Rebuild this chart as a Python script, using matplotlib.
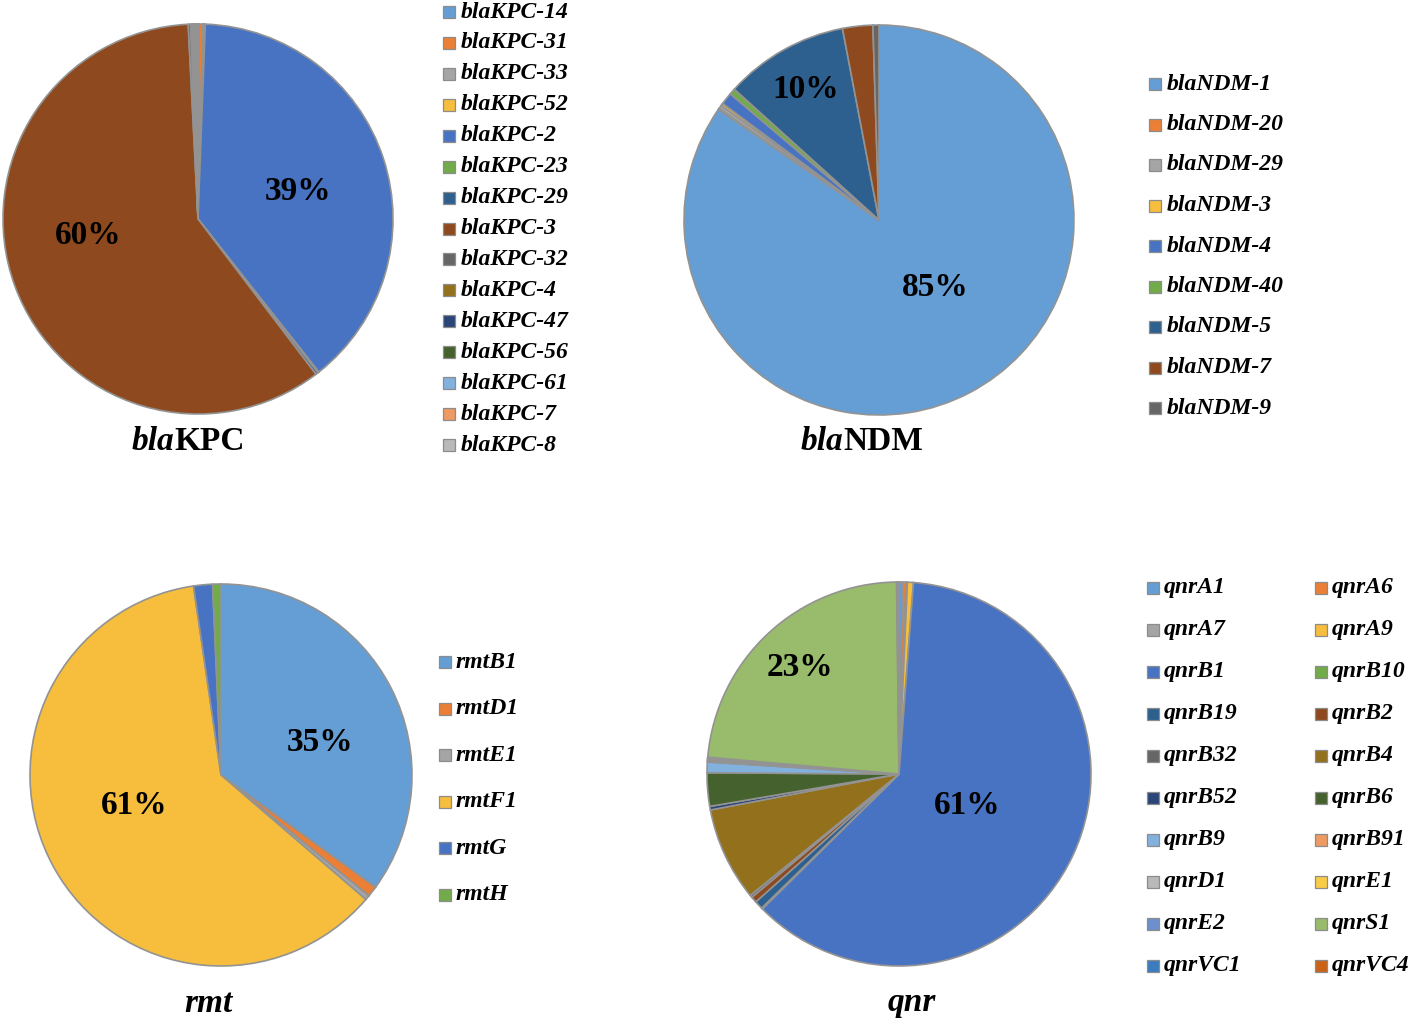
import matplotlib
matplotlib.use("Agg")
import matplotlib.pyplot as plt
from matplotlib.patches import Rectangle
import numpy as np

# ---------------- data ----------------
kpc_labels = ["blaKPC-14", "blaKPC-31", "blaKPC-33", "blaKPC-52", "blaKPC-2", "blaKPC-23",
              "blaKPC-29", "blaKPC-3", "blaKPC-32", "blaKPC-4", "blaKPC-47", "blaKPC-56",
              "blaKPC-61", "blaKPC-7", "blaKPC-8"]
kpc_values = [0.1, 0.3, 0.1, 0.1, 38.8, 0.1, 0.2, 59.6, 0.2, 0.1, 0.1, 0.1, 0.1, 0.1, 0.1]

ndm_labels = ["blaNDM-1", "blaNDM-20", "blaNDM-29", "blaNDM-3", "blaNDM-4", "blaNDM-40",
              "blaNDM-5", "blaNDM-7", "blaNDM-9"]
ndm_values = [84.6, 0.1, 0.3, 0.2, 1.0, 0.5, 10.3, 2.5, 0.5]

rmt_labels = ["rmtB1", "rmtD1", "rmtE1", "rmtF1", "rmtG", "rmtH"]
rmt_values = [35.0, 0.9, 0.4, 61.4, 1.6, 0.7]

qnr_labels = ["qnrA1", "qnrA6", "qnrA7", "qnrA9", "qnrB1", "qnrB10", "qnrB19", "qnrB2",
              "qnrB32", "qnrB4", "qnrB52", "qnrB6", "qnrB9", "qnrB91", "qnrD1", "qnrE1",
              "qnrE2", "qnrS1", "qnrVC1", "qnrVC4"]
qnr_values = [0.3, 0.3, 0.1, 0.5, 61.4, 0.1, 0.7, 0.5, 0.2, 7.9, 0.3, 2.8, 0.9, 0.1, 0.1,
              0.1, 0.1, 23.4, 0.1, 0.1]

palette = ["#659ED4", "#EA7F35", "#A5A5A5", "#F6BE3C", "#4873C2", "#72AB4A", "#2D5F8F",
           "#8E4A1E", "#666666", "#93701C", "#2A4578", "#45622E", "#82B1DD", "#EE9A62",
           "#B9B9B9", "#F9CC47", "#6D8FCD", "#98BC6C", "#3A7CBF", "#CB6218"]

W, H = 1416, 1023
fig = plt.figure(figsize=(W / 100, H / 100), dpi=100)
SERIF = "Liberation Serif"
EDGE = "#939393"
LABEL_MIN = 9.0


def fx(x):
    return x / W


def fy(y):
    return 1 - y / H


def draw_pie(values, cx, cy, r, label_dist, angle_tweak=None):
    pad = 1.02
    ax = fig.add_axes([fx(cx - r * pad), fy(cy + r * pad), 2 * r * pad / W, 2 * r * pad / H])
    colors = palette[:len(values)]
    wedges, _, autotexts = ax.pie(
        values, colors=colors, startangle=90, counterclock=False, radius=1,
        autopct=lambda p: f"{p:.0f}%" if p > LABEL_MIN else "",
        wedgeprops=dict(edgecolor=EDGE, linewidth=1.2),
        textprops=dict(fontsize=24, fontweight="bold", family=SERIF, color="black"))
    ax.set_xlim(-pad, pad)
    ax.set_ylim(-pad, pad)
    ax.set_aspect("equal")
    k = 0
    for w, t in zip(wedges, autotexts):
        if t.get_text():
            ang = np.deg2rad((w.theta1 + w.theta2) / 2)
            if angle_tweak is not None:
                ang += np.deg2rad(angle_tweak[k])
            d = label_dist[k]
            t.set_position((d * np.cos(ang), d * np.sin(ang)))
            t.set_ha("center")
            t.set_va("center")
            k += 1
    return ax


def title(cx_split, y, italic_part, bold_part):
    if bold_part:
        fig.text(fx(cx_split), fy(y), italic_part, ha="right", va="center", fontsize=24,
                 family=SERIF, fontweight="bold", style="italic")
        fig.text(fx(cx_split), fy(y), bold_part, ha="left", va="center", fontsize=24,
                 family=SERIF, fontweight="bold")
    else:
        fig.text(fx(cx_split), fy(y), italic_part, ha="center", va="center", fontsize=24,
                 family=SERIF, fontweight="bold", style="italic")


def legend(labels, x_box, x_text, y0, dy, ncol=1, col_dx=0, box=12):
    for i, lab in enumerate(labels):
        row, col = divmod(i, ncol)
        y = y0 + row * dy
        xb = x_box + col * col_dx
        xt = x_text + col * col_dx
        fig.add_artist(Rectangle((fx(xb), fy(y + box / 2)), box / W, box / H,
                                 transform=fig.transFigure, facecolor=palette[i],
                                 edgecolor="#8c8c8c", linewidth=0.9))
        fig.text(fx(xt), fy(y), lab, ha="left", va="center", fontsize=17, family=SERIF,
                 fontweight="bold", style="italic")


# blaKPC
draw_pie(kpc_values, 198, 219, 195, [0.53, 0.57], [-2.8, -11.7])
title(174, 441, "bla", "KPC")
legend(kpc_labels, 443, 461, 12, 30.93)

# blaNDM
draw_pie(ndm_values, 879, 220, 195, [0.45, 0.77], [11.8, 0])
title(843, 441, "bla", "NDM")
legend(ndm_labels, 1149, 1167, 84, 40.5)

# rmt
draw_pie(rmt_values, 221, 775, 191, [0.545, 0.48], [-8.6, -9.6])
title(208, 1003, "rmt", None)
legend(rmt_labels, 439, 456, 662, 46.6)

# qnr
draw_pie(qnr_values, 899, 774, 192, [0.39, 0.76])
title(912, 1003, "qnr", None)
legend(qnr_labels, 1147, 1164, 588, 42, ncol=2, col_dx=168)

fig.savefig("out.png", dpi=100)
